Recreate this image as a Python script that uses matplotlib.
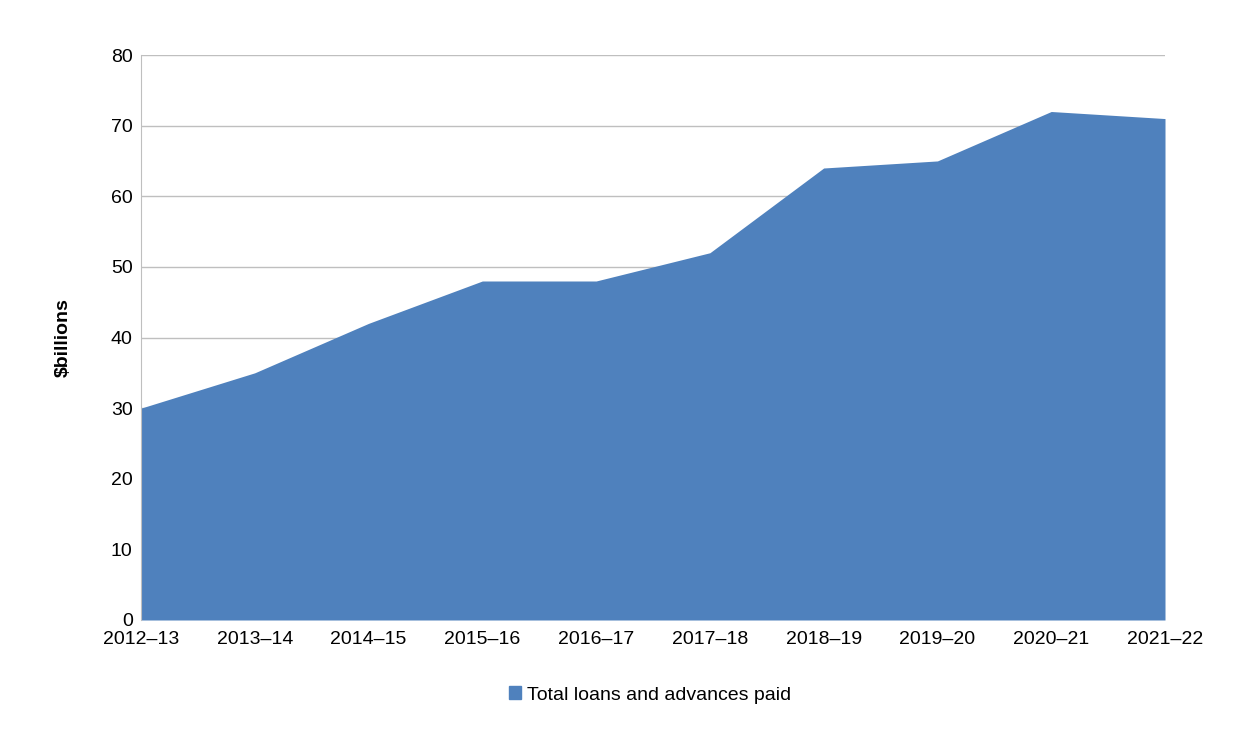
import matplotlib
matplotlib.use("Agg")
import matplotlib.pyplot as plt
from matplotlib.patches import Patch

plt.rcParams["font.family"] = "Liberation Sans"

years = ["2012–13", "2013–14", "2014–15", "2015–16", "2016–17",
         "2017–18", "2018–19", "2019–20", "2020–21", "2021–22"]
loans = [30, 35, 42, 48, 48, 52, 64, 65, 72, 71]
yticks = [0, 10, 20, 30, 40, 50, 60, 70, 80]
color = "#4F81BD"

fig = plt.figure(figsize=(12.5, 7.44), dpi=100)
ax = fig.add_axes([141/1250, 1-620/744, (1165-141)/1250, (620-55)/744])
x = list(range(len(years)))
ax.fill_between(x, loans, 0, color=color, linewidth=0, zorder=2)
ax.set_xlim(0, len(years)-1)
ax.set_ylim(0, 80)
ax.set_yticks(yticks)
ax.set_xticks(x)
ax.set_xticklabels(years)
ax.tick_params(axis="both", labelsize=14, length=0, pad=6)
ax.tick_params(axis="x", pad=8)
ax.grid(axis="y", color="#BFBFBF", linewidth=1, zorder=0)
for s in ["top", "right", "bottom"]:
    ax.spines[s].set_visible(False)
ax.spines["left"].set_color("#BFBFBF")
ax.set_ylabel("$billions", fontsize=14, fontweight="bold", labelpad=28)
fig.legend(handles=[Patch(color=color, label="Total loans and advances paid")],
           loc="center", bbox_to_anchor=(650/1250, 1-695/744), frameon=False,
           fontsize=14, handlelength=0.6, handleheight=0.6, handletextpad=0.3)
fig.savefig("out.png", dpi=100)
